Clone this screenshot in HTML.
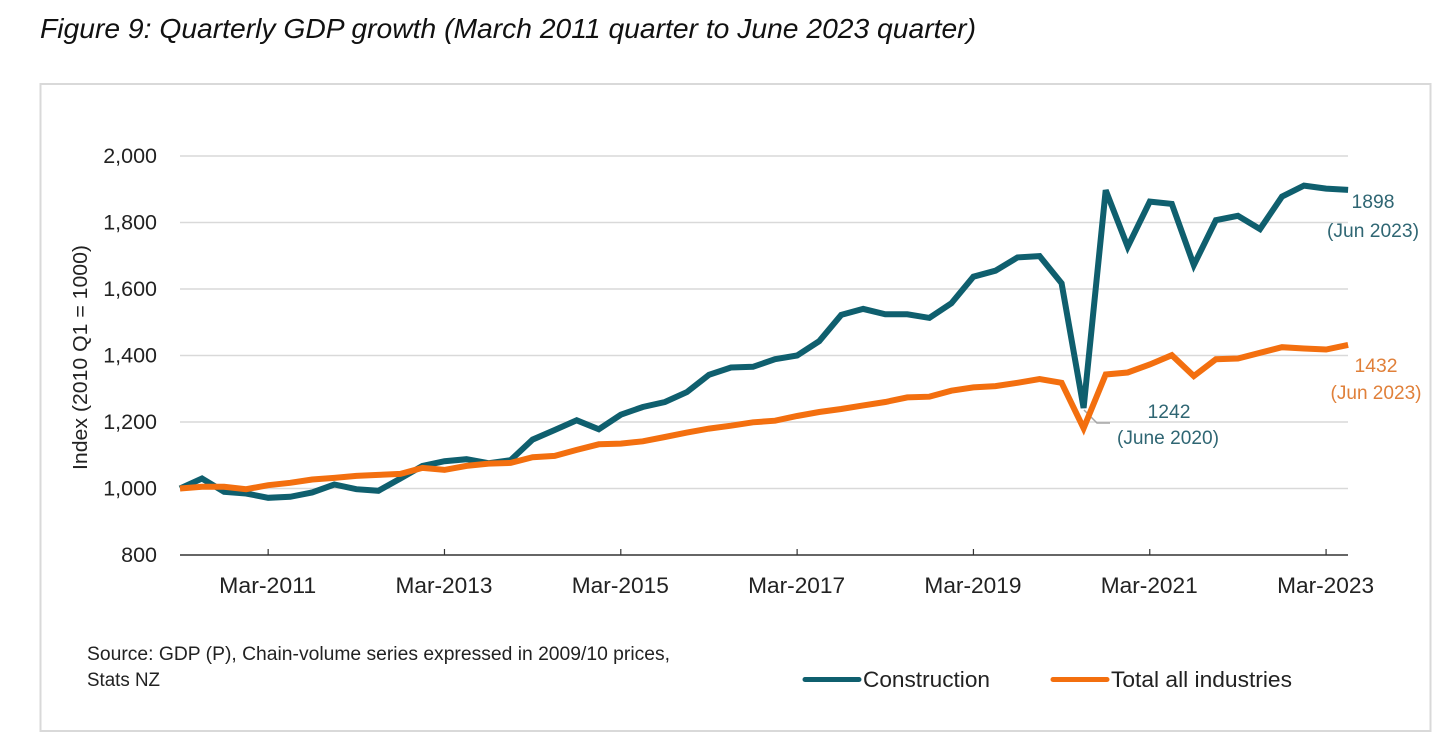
<!DOCTYPE html>
<html lang="en">
<head>
<meta charset="utf-8">
<title>Quarterly GDP growth</title>
<style>
html,body{margin:0;padding:0;background:#fff;width:1456px;height:735px;overflow:hidden}
svg{display:block}
text{font-family:"Liberation Sans",sans-serif}
</style>
</head>
<body>
<svg id="chart" width="1456" height="735" viewBox="0 0 1456 735" xmlns="http://www.w3.org/2000/svg">
  <rect x="0" y="0" width="1456" height="735" fill="#ffffff"/>
  <text x="40" y="38" font-size="27.5" font-style="italic" fill="#111" textLength="936" lengthAdjust="spacingAndGlyphs">Figure 9: Quarterly GDP growth (March 2011 quarter to June 2023 quarter)</text>
  <rect x="40.5" y="84" width="1390" height="647" fill="#fff" stroke="#d9d9d9" stroke-width="2"/>
  <g id="grid"></g>
  <g id="yticks"></g>
  <g id="xaxis"></g>
  <text transform="translate(87,470) rotate(-90)" font-size="20" fill="#222" textLength="225" lengthAdjust="spacingAndGlyphs">Index (2010 Q1 = 1000)</text>
  <polyline points="1084,410 1097,423 1110,423" fill="none" stroke="#a6a6a6" stroke-width="1.5"/>
  <path id="line-construction" fill="none" stroke="#0f5f6e" stroke-width="6" stroke-linejoin="miter" stroke-linecap="butt"/>
  <path id="line-total" fill="none" stroke="#f36f0f" stroke-width="6" stroke-linejoin="miter" stroke-linecap="butt"/>
  <text x="1373" y="208" text-anchor="middle" font-size="19" fill="#2f6673" textLength="43" lengthAdjust="spacingAndGlyphs">1898</text>
  <text x="1373" y="237" text-anchor="middle" font-size="19" fill="#2f6673" textLength="92" lengthAdjust="spacingAndGlyphs">(Jun 2023)</text>
  <text x="1376" y="372" text-anchor="middle" font-size="19" fill="#e0803a" textLength="43" lengthAdjust="spacingAndGlyphs">1432</text>
  <text x="1376" y="399" text-anchor="middle" font-size="19" fill="#e0803a" textLength="91" lengthAdjust="spacingAndGlyphs">(Jun 2023)</text>
  <text x="1169" y="418" text-anchor="middle" font-size="19" fill="#2f6673" textLength="43" lengthAdjust="spacingAndGlyphs">1242</text>
  <text x="1168" y="444" text-anchor="middle" font-size="19" fill="#2f6673" textLength="102" lengthAdjust="spacingAndGlyphs">(June 2020)</text>
  <text x="87" y="660" font-size="19" fill="#222" textLength="583" lengthAdjust="spacingAndGlyphs">Source: GDP (P), Chain-volume series expressed in 2009/10 prices,</text>
  <text x="87" y="686" font-size="19" fill="#222" textLength="73" lengthAdjust="spacingAndGlyphs">Stats NZ</text>
  <g>
    <line x1="805" y1="679.5" x2="859" y2="679.5" stroke="#0f5f6e" stroke-width="5" stroke-linecap="round"/>
    <text x="863" y="687" font-size="22" fill="#222" textLength="127" lengthAdjust="spacingAndGlyphs">Construction</text>
  </g>
  <g>
    <line x1="1053" y1="679.5" x2="1107" y2="679.5" stroke="#f36f0f" stroke-width="5" stroke-linecap="round"/>
    <text x="1111" y="687" font-size="22" fill="#222" textLength="181" lengthAdjust="spacingAndGlyphs">Total all industries</text>
  </g>
</svg>
<script>
const yTickValues = [800, 1000, 1200, 1400, 1600, 1800, 2000];
const xTickIndexes = [4, 12, 20, 28, 36, 44, 52];
const xTickLabels = ["Mar-2011", "Mar-2013", "Mar-2015", "Mar-2017", "Mar-2019", "Mar-2021", "Mar-2023"];
const construction = [1000,1030,990,985,972,975,988,1012,998,993,1030,1068,1082,1088,1076,1085,1147,1176,1205,1178,1222,1245,1260,1290,1342,1364,1366,1389,1400,1443,1522,1540,1524,1524,1513,1557,1637,1655,1695,1699,1617,1242,1897,1727,1863,1856,1672,1807,1820,1780,1878,1911,1902,1898];
const totalIndustries = [1000,1005,1005,998,1010,1017,1027,1032,1038,1041,1044,1062,1056,1068,1075,1077,1094,1098,1116,1133,1135,1142,1155,1168,1180,1189,1199,1204,1218,1230,1239,1250,1260,1274,1276,1294,1304,1308,1318,1329,1318,1181,1343,1349,1373,1401,1338,1389,1391,1408,1425,1421,1418,1432];

const SVG_NS = "http://www.w3.org/2000/svg";
function xPos(i) { return 180 + i * 22.04; }
function yPos(v) { return 555 - (v - 800) * (399 / 1200); }
function linePath(values) {
  return values.map((v, i) => (i ? "L" : "M") + xPos(i).toFixed(1) + " " + yPos(v).toFixed(1)).join(" ");
}
const gridGroup = document.getElementById("grid");
const yLabelGroup = document.getElementById("yticks");
const xAxisGroup = document.getElementById("xaxis");

yTickValues.forEach(function (v) {
  if (v !== 800) {
    const g = document.createElementNS(SVG_NS, "line");
    
    
    g.setAttribute("x1", xPos(0));
    g.setAttribute("x2", 1348);
    g.setAttribute("y1", yPos(v));
    g.setAttribute("y2", yPos(v));
    g.setAttribute("stroke", "#d9d9d9");
    g.setAttribute("stroke-width", "1.5");
    gridGroup.appendChild(g);
  }
  const t = document.createElementNS(SVG_NS, "text");
  
  
  t.setAttribute("x", 157);
  t.setAttribute("y", yPos(v) + 7);
  t.setAttribute("text-anchor", "end");
  t.setAttribute("font-size", "21.5");
  t.setAttribute("fill", "#222");
  t.textContent = v.toLocaleString("en-US");
  yLabelGroup.appendChild(t);
});

const axisLine = document.createElementNS(SVG_NS, "line");


axisLine.setAttribute("x1", xPos(0));
axisLine.setAttribute("x2", 1348);
axisLine.setAttribute("y1", yPos(800));
axisLine.setAttribute("y2", yPos(800));
axisLine.setAttribute("stroke", "#333");
axisLine.setAttribute("stroke-width", "1.5");
xAxisGroup.appendChild(axisLine);

xTickIndexes.forEach(function (idx, k) {
  const tick = document.createElementNS(SVG_NS, "line");
  
  
  tick.setAttribute("x1", xPos(idx));
  tick.setAttribute("x2", xPos(idx));
  tick.setAttribute("y1", yPos(800) - 6);
  tick.setAttribute("y2", yPos(800));
  tick.setAttribute("stroke", "#333");
  tick.setAttribute("stroke-width", "1.2");
  xAxisGroup.appendChild(tick);
  const label = document.createElementNS(SVG_NS, "text");
  
  
  label.setAttribute("x", xPos(idx) - 0.5);
  label.setAttribute("y", 593);
  label.setAttribute("text-anchor", "middle");
  label.setAttribute("font-size", "22");
  label.setAttribute("fill", "#222");
  label.setAttribute("textLength", "97");
  label.setAttribute("lengthAdjust", "spacingAndGlyphs");
  label.textContent = xTickLabels[k];
  xAxisGroup.appendChild(label);
});

document.getElementById("line-construction").setAttribute("d", linePath(construction));
document.getElementById("line-total").setAttribute("d", linePath(totalIndustries));
</script>
</body>
</html>
